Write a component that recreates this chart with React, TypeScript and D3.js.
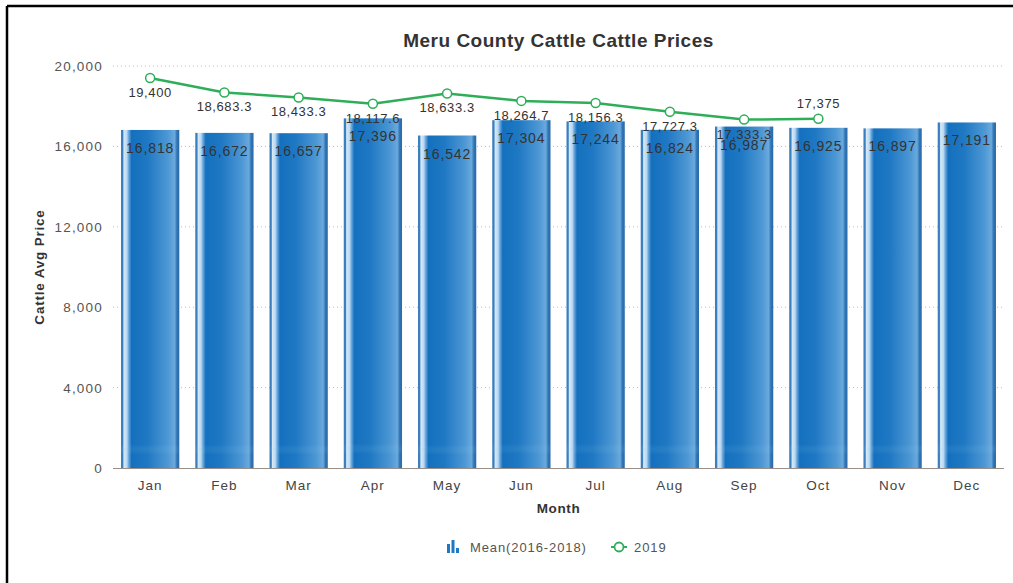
import React from "react";
import * as d3 from "d3";

const months = ["Jan", "Feb", "Mar", "Apr", "May", "Jun", "Jul", "Aug", "Sep", "Oct", "Nov", "Dec"];
const meanValues = [16818, 16672, 16657, 17396, 16542, 17304, 17244, 16824, 16987, 16925, 16897, 17191];
const values2019 = [19400, 18683.3, 18433.3, 18117.6, 18633.3, 18264.7, 18156.3, 17727.3, 17333.3, 17375];
const yTicks = [0, 4000, 8000, 12000, 16000, 20000];

const W = 1013;
const H = 583;
const margin = { left: 113, right: 9, top: 66, bottom: 115 };
const FONT = "'Liberation Sans', Arial, Helvetica, sans-serif";

export default function App() {
  const x = d3
    .scaleBand<string>()
    .domain(months)
    .range([margin.left, W - margin.right])
    .paddingInner(0.215)
    .paddingOuter(0.108);
  const xc = d3.scaleBand<string>().domain(months).range([margin.left, W - margin.right]);
  const y = d3.scaleLinear().domain([0, 20000]).range([H - margin.bottom, margin.top]);
  const fmt = d3.format(",");
  const line = d3
    .line<number>()
    .x((_, i) => (xc(months[i]) as number) + xc.bandwidth() / 2)
    .y((d) => y(d));

  const green = "#2eae58";
  const plotLeft = margin.left;
  const plotRight = W - margin.right;
  const midX = (plotLeft + plotRight) / 2;

  return (
    <svg
      width={W}
      height={H}
      style={{ position: "absolute", left: 0, top: 0, background: "#fff" }}
      fontFamily={FONT}
    >
      <defs>
        <linearGradient id="barGrad" x1="0" x2="1" y1="0" y2="0">
          <stop offset="0" stopColor="#3b7fbf" />
          <stop offset="0.03" stopColor="#3b7fbf" />
          <stop offset="0.05" stopColor="#d6e9f8" />
          <stop offset="0.1" stopColor="#b9d8f1" />
          <stop offset="0.13" stopColor="#6ea9dc" />
          <stop offset="0.18" stopColor="#1470be" />
          <stop offset="0.45" stopColor="#1f78c3" />
          <stop offset="0.8" stopColor="#4d97d4" />
          <stop offset="0.92" stopColor="#6aa9dc" />
          <stop offset="0.96" stopColor="#2f74b6" />
          <stop offset="1" stopColor="#2a6aa8" />
        </linearGradient>
        <linearGradient id="barShade" x1="0" x2="0" y1="0" y2="1">
          <stop offset="0" stopColor="#ffffff" stopOpacity="0" />
          <stop offset="0.93" stopColor="#ffffff" stopOpacity="0" />
          <stop offset="0.945" stopColor="#7fd3ea" stopOpacity="0.1" />
          <stop offset="0.96" stopColor="#ffffff" stopOpacity="0" />
          <stop offset="1" stopColor="#ffffff" stopOpacity="0" />
        </linearGradient>
      </defs>

      {/* frame */}
      <line x1={7} y1={6} x2={W} y2={6} stroke="#000" strokeWidth={2.5} />
      <line x1={7} y1={6} x2={7} y2={H} stroke="#000" strokeWidth={2.5} />

      {/* title */}
      <text x={midX} y={47} textAnchor="middle" fontSize={19} fontWeight="bold" letterSpacing={0.5} fill="#333">
        Meru County Cattle Cattle Prices
      </text>

      {/* grid */}
      {yTicks.map((t) =>
        t === 0 ? null : (
          <line
            key={t}
            x1={plotLeft}
            x2={plotRight}
            y1={y(t)}
            y2={y(t)}
            stroke="#bbb"
            strokeWidth={1}
            strokeDasharray="1,3"
          />
        )
      )}
      {yTicks.map((t) => (
        <text key={"yl" + t} x={103} y={y(t) + 5} textAnchor="end" fontSize={13.5} letterSpacing={1.2} fill="#555">
          {fmt(t)}
        </text>
      ))}
      <text
        transform={`translate(44,${(y(0) + y(20000)) / 2}) rotate(-90)`}
        textAnchor="middle"
        fontSize={13.5}
        fontWeight="bold"
        letterSpacing={0.8}
        fill="#333"
      >
        Cattle Avg Price
      </text>

      {/* bars */}
      {meanValues.map((v, i) => (
        <g key={"b" + i}>
          <rect
            x={x(months[i])}
            y={y(v)}
            width={x.bandwidth()}
            height={y(0) - y(v)}
            fill="url(#barGrad)"
          />
          <rect
            x={x(months[i])}
            y={y(v)}
            width={x.bandwidth()}
            height={y(0) - y(v)}
            fill="url(#barShade)"
          />
        </g>
      ))}

      {/* x axis */}
      <line x1={plotLeft} x2={plotRight} y1={y(0) + 0.5} y2={y(0) + 0.5} stroke="#9a8f88" strokeWidth={1} />
      {months.map((m) => (
        <text
          key={"xl" + m}
          x={(xc(m) as number) + xc.bandwidth() / 2}
          y={490}
          textAnchor="middle"
          fontSize={13.5}
          letterSpacing={1}
          fill="#444"
        >
          {m}
        </text>
      ))}
      <text x={midX} y={513} textAnchor="middle" fontSize={13.5} fontWeight="bold" letterSpacing={0.6} fill="#333">
        Month
      </text>

      {/* bar labels */}
      {meanValues.map((v, i) => (
        <text
          key={"bl" + i}
          x={(x(months[i]) as number) + x.bandwidth() / 2}
          y={y(v) + 23}
          textAnchor="middle"
          fontSize={14}
          letterSpacing={0.9}
          fill="#333"
        >
          {fmt(v)}
        </text>
      ))}

      {/* line */}
      <path d={line(values2019) || ""} fill="none" stroke={green} strokeWidth={2.5} />
      {values2019.map((v, i) => (
        <circle
          key={"p" + i}
          cx={(xc(months[i]) as number) + xc.bandwidth() / 2}
          cy={y(v)}
          r={4.5}
          fill="#fff"
          stroke={green}
          strokeWidth={1.5}
        />
      ))}
      {values2019.map((v, i) => {
        const above = i === values2019.length - 1;
        return (
          <text
            key={"pl" + i}
            x={(xc(months[i]) as number) + xc.bandwidth() / 2}
            y={above ? y(v) - 11 : y(v) + 19}
            textAnchor="middle"
            fontSize={13}
            letterSpacing={0.6}
            fill="#333"
          >
            {fmt(v)}
          </text>
        );
      })}

      {/* legend */}
      <g transform="translate(447,540)">
        <rect x={0} y={4} width={3} height={9} fill="#1f78c3" />
        <rect x={4.5} y={0} width={3} height={13} fill="#1f78c3" />
        <rect x={9} y={8} width={3} height={5} fill="#1f78c3" />
        <text x={23} y={12} fontSize={13} letterSpacing={0.9} fill="#555">
          Mean(2016-2018)
        </text>
        <line x1={164} x2={180} y1={7} y2={7} stroke={green} strokeWidth={2} />
        <circle cx={172} cy={7} r={4.5} fill="#fff" stroke={green} strokeWidth={1.8} />
        <text x={187} y={12} fontSize={13} letterSpacing={0.9} fill="#555">
          2019
        </text>
      </g>
    </svg>
  );
}
